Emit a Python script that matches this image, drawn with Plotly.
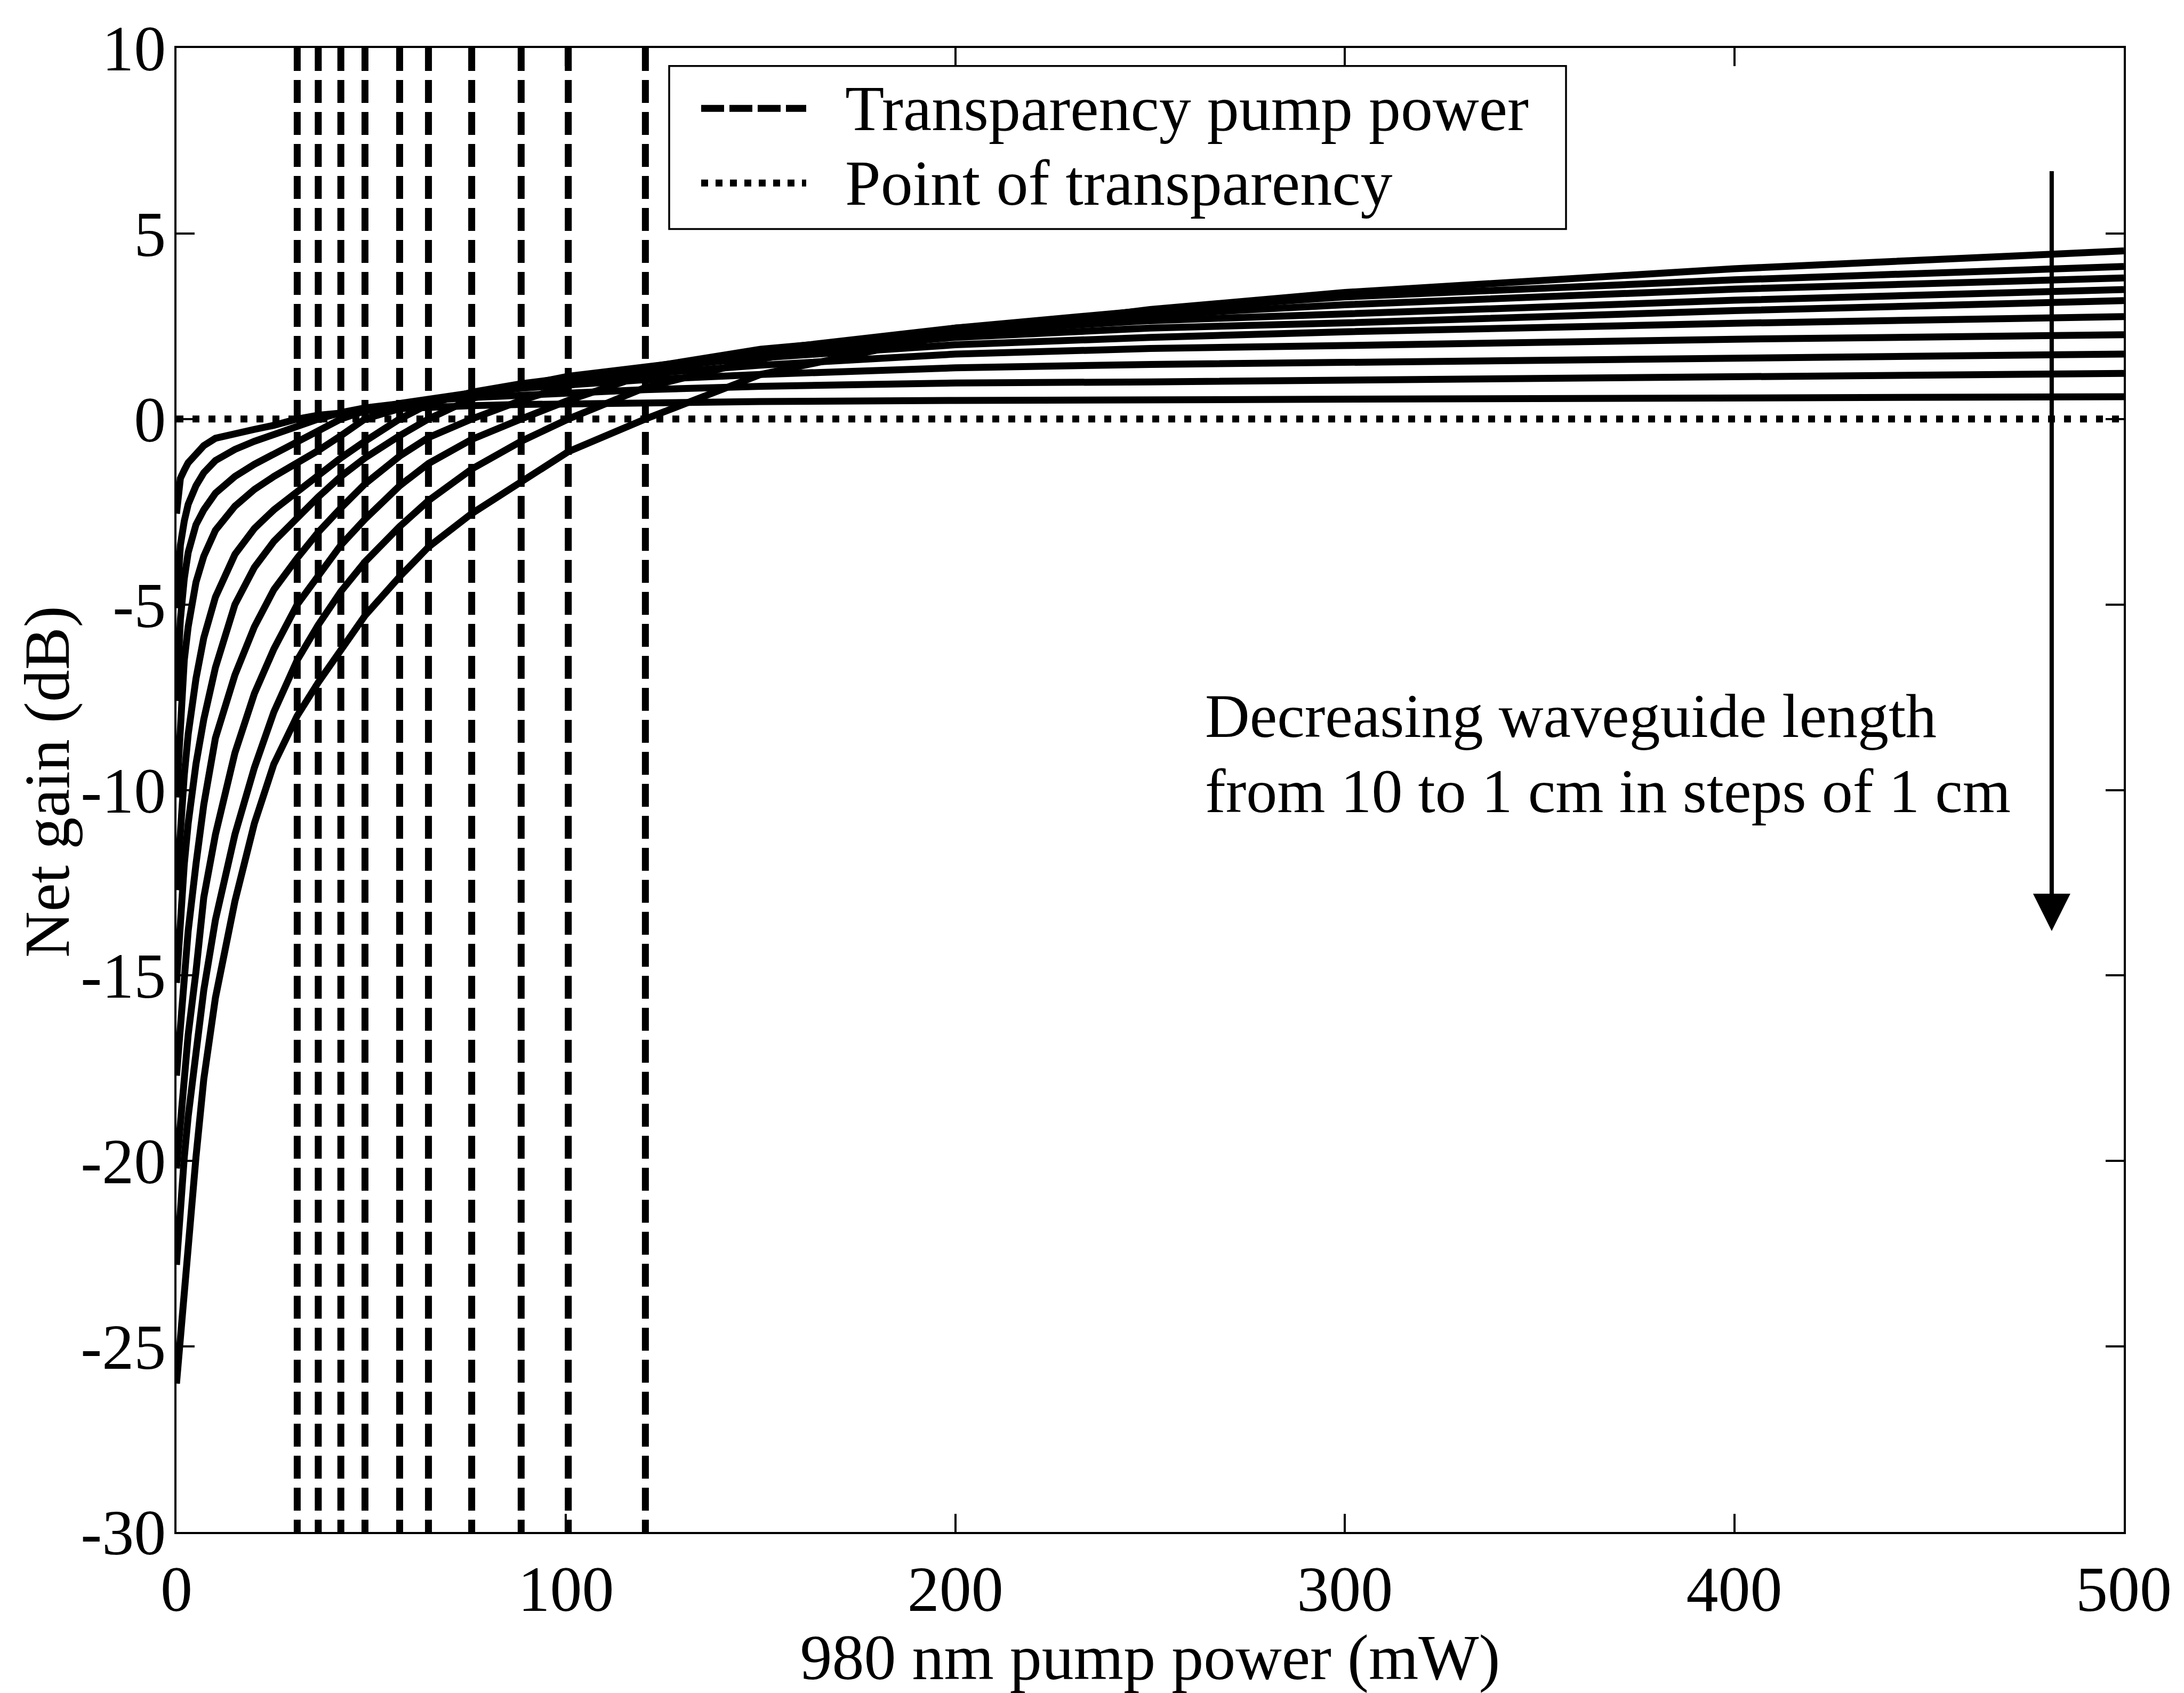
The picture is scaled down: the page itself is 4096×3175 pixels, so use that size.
import plotly.graph_objects as go

# ---------------- data ----------------
pump_mw = [0, 1, 2, 3, 5, 7, 10, 15, 20, 25, 31.0, 36.4, 42.2, 48.4, 57.3, 64.7,
           75.8, 88.5, 100.6, 120.4, 150, 200, 250, 300, 400, 500]

gain_1cm = [-2.55, -1.60, -1.38, -1.18, -0.95, -0.72, -0.52, -0.38, -0.28, -0.17, 0.00, 0.10,
            0.17, 0.22, 0.28, 0.32, 0.36, 0.39, 0.41, 0.44, 0.47, 0.50, 0.52, 0.53, 0.57, 0.60]
gain_2cm = [-5.1, -3.4, -2.75, -2.3, -1.8, -1.45, -1.12, -0.82, -0.60, -0.40, -0.20, 0.00,
            0.17, 0.30, 0.42, 0.50, 0.58, 0.65, 0.71, 0.79, 0.88, 0.97, 1.00, 1.05, 1.15, 1.23]
gain_3cm = [-7.6, -5.4, -4.3, -3.6, -2.85, -2.45, -2.0, -1.55, -1.22, -0.95, -0.66, -0.32,
            0.00, 0.22, 0.42, 0.55, 0.70, 0.83, 0.93, 1.06, 1.20, 1.38, 1.47, 1.53, 1.65, 1.75]
gain_4cm = [-10.2, -7.9, -6.5, -5.6, -4.4, -3.7, -3.0, -2.35, -1.9, -1.55, -1.2, -0.85,
            -0.45, 0.00, 0.28, 0.48, 0.70, 0.88, 1.02, 1.22, 1.45, 1.75, 1.90, 1.98, 2.15, 2.27]
gain_5cm = [-12.7, -10.9, -9.6, -8.5, -7.0, -5.9, -4.8, -3.65, -2.95, -2.45, -1.95, -1.5,
            -1.05, -0.60, 0.00, 0.40, 0.72, 0.95, 1.12, 1.38, 1.65, 2.00, 2.20, 2.35, 2.58, 2.76]
gain_6cm = [-15.2, -13.4, -12.0, -10.9, -9.3, -8.1, -6.7, -5.0, -4.0, -3.3, -2.65, -2.1,
            -1.55, -1.05, -0.45, 0.00, 0.55, 0.90, 1.15, 1.42, 1.78, 2.20, 2.45, 2.59, 2.92, 3.19]
gain_7cm = [-17.7, -16.4, -15.1, -13.8, -12.0, -10.4, -8.6, -6.9, -5.6, -4.6, -3.75, -3.05,
            -2.4, -1.75, -1.0, -0.5, 0.00, 0.50, 0.90, 1.38, 1.88, 2.35, 2.65, 2.84, 3.20, 3.49]
gain_8cm = [-20.2, -18.8, -17.6, -16.6, -14.9, -12.9, -11.2, -9.0, -7.4, -6.2, -5.0, -4.2,
            -3.4, -2.7, -1.8, -1.2, -0.55, 0.00, 0.50, 1.20, 1.85, 2.45, 2.80, 3.08, 3.50, 3.80]
gain_9cm = [-22.8, -21.2, -19.9, -18.8, -17.0, -15.4, -13.5, -11.2, -9.4, -7.9, -6.5, -5.55,
            -4.65, -3.85, -2.9, -2.2, -1.35, -0.60, 0.00, 0.85, 1.62, 2.45, 2.93, 3.29, 3.75, 4.11]
gain_10cm = [-26.0, -24.7, -23.5, -22.2, -19.9, -17.8, -15.6, -13.0, -10.9, -9.3, -8.0, -7.1,
             -6.2, -5.3, -4.25, -3.45, -2.55, -1.70, -0.88, 0.00, 1.20, 2.30, 2.95, 3.41, 4.05, 4.53]

gain_curves = [gain_1cm, gain_2cm, gain_3cm, gain_4cm, gain_5cm,
               gain_6cm, gain_7cm, gain_8cm, gain_9cm, gain_10cm]
lengths_cm = [1, 2, 3, 4, 5, 6, 7, 8, 9, 10]

transparency_pump_mw = [31.0, 36.4, 42.2, 48.4, 57.3, 64.7, 75.8, 88.5, 100.6, 120.4]

x_ticks = [0, 100, 200, 300, 400, 500]
x_tick_labels = ["0", "100", "200", "300", "400", "500"]
y_ticks = [-30, -25, -20, -15, -10, -5, 0, 5, 10]
y_tick_labels = ["-30", "-25", "-20", "-15", "-10", "-5", "0", "5", "10"]

x_range = [0, 500]
y_range = [-30, 10]

arrow_x_mw = 481.5
arrow_from_db = 6.7
arrow_to_db = -13.8

# ---------------- style ----------------
FONT = "Liberation Serif"
FS = 120
FS_NOTE = 116
LW = 13
W, H = 4096, 3175
ML, MR, MT, MB = 331, 113, 90, 282
PW, PH = W - ML - MR, H - MT - MB


def px_to_paper(px, py):
    return (px - ML) / PW, (H - MB - py) / PH


fig = go.Figure()

# vertical dashed lines: transparency pump power
vx, vy = [], []
for p in transparency_pump_mw:
    vx += [p, p, None]
    vy += [y_range[1], y_range[0], None]
fig.add_trace(go.Scatter(x=vx, y=vy, mode="lines", name="Transparency pump power",
                         line=dict(color="black", width=LW, dash="43px,17px"),
                         showlegend=False, hoverinfo="skip"))

# dotted line: point of transparency
fig.add_trace(go.Scatter(x=x_range, y=[0, 0], mode="lines", name="Point of transparency",
                         line=dict(color="black", width=LW, dash="13px,17px"),
                         showlegend=False, hoverinfo="skip"))

# gain curves
for L, g in zip(lengths_cm, gain_curves):
    fig.add_trace(go.Scatter(x=pump_mw, y=g, mode="lines", name=f"{L} cm",
                             line=dict(color="black", width=LW),
                             showlegend=False))

axis_common = dict(showline=True, linecolor="black", linewidth=3.5, mirror="ticks",
                   ticks="inside", ticklen=34, tickwidth=3.5, tickcolor="black",
                   showgrid=False, zeroline=False,
                   tickfont=dict(family=FONT, size=FS, color="black"))

fig.update_layout(
    width=W, height=H, autosize=False,
    margin=dict(l=ML, r=MR, t=MT, b=MB, pad=0),
    paper_bgcolor="white", plot_bgcolor="white",
    font=dict(family=FONT, size=FS, color="black"),
    showlegend=False,
    xaxis=dict(range=x_range, tickmode="array", tickvals=x_ticks, ticktext=x_tick_labels,
               ticklabelstandoff=0,
               title=dict(text="980 nm pump power (mW)",
                          font=dict(family=FONT, size=FS, color="black"), standoff=32),
               **axis_common),
    yaxis=dict(range=y_range, tickmode="array", tickvals=y_ticks, ticktext=y_tick_labels,
               ticklabelstandoff=-8, **axis_common),
)

# y-axis title (placed as rotated text to match reference position)
yt_x, yt_y = px_to_paper(88, 1476)
fig.add_annotation(xref="paper", yref="paper", x=yt_x, y=yt_y, text="Net gain (dB)",
                   textangle=-90, showarrow=False, xanchor="center", yanchor="middle",
                   font=dict(family=FONT, size=FS, color="black"))

# manual legend box (matches reference layout)
bx0, by0 = px_to_paper(1255, 432)
bx1, by1 = px_to_paper(2937, 124)
fig.add_shape(type="rect", xref="paper", yref="paper", x0=bx0, y0=by0, x1=bx1, y1=by1,
              line=dict(color="black", width=3.5), fillcolor="white", layer="above")
sx0, sy1 = px_to_paper(1315, 204)
sx1, sy2 = px_to_paper(1512, 345)
fig.add_shape(type="line", xref="paper", yref="paper", x0=sx0, x1=sx1, y0=sy1, y1=sy1,
              line=dict(color="black", width=LW, dash="43px,10px"), layer="above")
fig.add_shape(type="line", xref="paper", yref="paper", x0=sx0, x1=sx1, y0=sy2, y1=sy2,
              line=dict(color="black", width=LW, dash="13px,14px"), layer="above")
tx, _ = px_to_paper(1583, 0)
for txt, ty in [("Transparency pump power", sy1), ("Point of transparency", sy2)]:
    fig.add_annotation(xref="paper", yref="paper", x=tx, y=ty, text=txt, showarrow=False,
                       xanchor="left", yanchor="middle",
                       font=dict(family=FONT, size=FS, color="black"))

# annotation text
ax_, ay1 = px_to_paper(2258, 1352)
_, ay2 = px_to_paper(2258, 1494)
fig.add_annotation(xref="paper", yref="paper", x=ax_, y=ay1, text="Decreasing waveguide length",
                   showarrow=False, xanchor="left", yanchor="middle",
                   font=dict(family=FONT, size=FS_NOTE, color="black"))
fig.add_annotation(xref="paper", yref="paper", x=ax_, y=ay2,
                   text="from 10 to 1 cm in steps of 1 cm",
                   showarrow=False, xanchor="left", yanchor="middle",
                   font=dict(family=FONT, size=FS_NOTE, color="black"))

# arrow
fig.add_annotation(x=arrow_x_mw, y=arrow_to_db, ax=arrow_x_mw, ay=arrow_from_db,
                   xref="x", yref="y", axref="x", ayref="y",
                   text="", showarrow=True, arrowhead=2, arrowsize=1.75, arrowwidth=8,
                   arrowcolor="black", standoff=0)

fig.write_html("out.html")
